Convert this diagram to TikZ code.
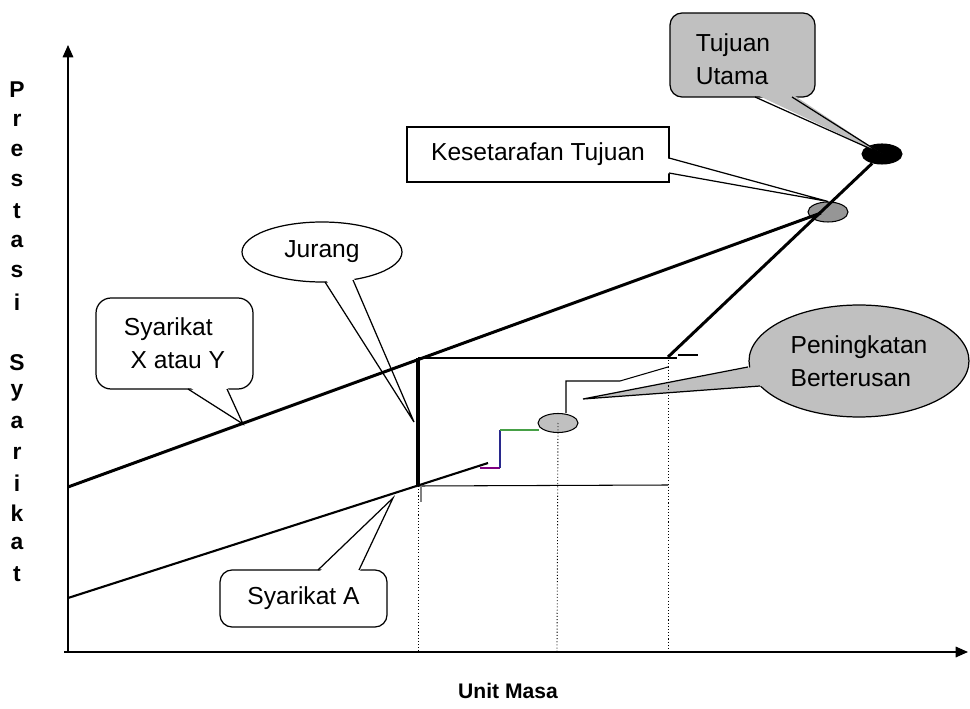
\documentclass[tikz,border=0pt]{standalone}
\usepackage{fontspec}
\setmainfont{Liberation Sans}
\usetikzlibrary{arrows.meta,shapes.geometric}
\definecolor{calloutgray}{RGB}{192,192,192}
\definecolor{markgray}{RGB}{150,150,150}
\definecolor{stepgreen}{RGB}{70,160,70}
\definecolor{stepblue}{RGB}{40,40,140}
\begin{document}
\begin{tikzpicture}[x=0.02cm,y=-0.02cm,
    every node/.style={font=\fontsize{14}{19}\selectfont},
    callout/.style={draw,line width=0.7pt,inner sep=0pt},
    tail/.style={line width=0.7pt},
    marker/.style={ellipse,draw,line width=0.6pt,minimum width=0.8cm,minimum height=0.4cm,inner sep=0pt},
    axislabel/.style={font=\bfseries\fontsize{13}{15}\selectfont},
    guide/.style={dash pattern=on 0.6pt off 1.2pt,line width=0.5pt},
    company/.style={line width=1.7pt}]
\useasboundingbox (0,0) rectangle (970,709);

% callouts
\node[callout,rounded corners=0.24cm,fill=calloutgray,minimum width=2.9cm,minimum height=1.68cm] (tujuan) at (742.5,55) {};
\node[align=left] (tujuanText) at (733,59) {Tujuan\\Utama};
\node[callout,fill=white,minimum width=5.24cm,minimum height=1.1cm] (setara) at (538,154.5) {Kesetarafan Tujuan};
\node[callout,ellipse,fill=white,minimum width=3.2cm,minimum height=1.2cm] (jurang) at (322,252) {Jurang};
\node[callout,rounded corners=0.3cm,fill=white,align=left,minimum width=3.14cm,minimum height=1.82cm] (sxy) at (174.5,343.5) {Syarikat\\\ X atau Y};
\node[callout,rounded corners=0.24cm,fill=white,minimum width=3.34cm,minimum height=1.14cm] (sa) at (303.5,598.5) {Syarikat A};
\node[callout,ellipse,fill=calloutgray,align=left,minimum width=4.4cm,minimum height=2.24cm] (tingkat) at (859,361) {Peningkatan\\Berterusan};

% markers
\node[marker,fill=black] (utama) at (882,154) {};
\node[marker,fill=markgray] (ks) at (828,212) {};
\node[marker,fill=calloutgray,minimum height=0.38cm] (pb) at (558,423) {};

% points on the lines
\coordinate (xy0) at (68,487);
\coordinate (xyEnd) at (821,213);
\coordinate (a0) at (68,598);
\coordinate (aEnd) at (488,463);
\coordinate (gapTop) at (418,358);
\coordinate (gapBot) at (418,486);
\coordinate (gapMid) at (414,422);
\coordinate (lowR) at (668,485);
\coordinate (highR) at (668,357);
\coordinate (sxyTip) at (243,424);
\coordinate (saTip) at (393,498);
\coordinate (pbTip) at (583,399);

% callout tails
\fill[calloutgray] (755,94) -- (utama.center) -- (792,94) -- cycle;
\draw[tail] (755,97) -- (utama.center) -- (792,97);
\fill[white] (666,158) -- (ks.north) -- (666,173) -- cycle;
\draw[tail] (669,158) -- (ks.north) -- (669,173);
\fill[white] (325,278) -- (gapMid) -- (353,276) -- cycle;
\draw[tail] (325,282) -- (gapMid) -- (353,280);
\fill[white] (188,386) -- (sxyTip) -- (227,386) -- cycle;
\draw[tail] (188,389) -- (sxyTip) -- (227,389);
\fill[white] (318,573) -- (saTip) -- (359,573) -- cycle;
\draw[tail] (318,570) -- (saTip) -- (359,570);
\fill[calloutgray] (752,367) -- (pbTip) -- (764,386) -- cycle;
\draw[tail] (748,367) -- (pbTip) -- (760,386);

% guides
\draw[guide] (gapBot) -- (418,652);
\draw[guide] (pb.center) -- (557,652);
\draw[guide] (highR) -- (668,652);
\draw[line width=0.6pt] (gapTop) -- (677,358);
\draw[line width=0.6pt] (gapBot) -- (lowR);
\draw[line width=0.6pt,gray] (421,485) -- (421,502);
\draw[line width=1.1pt] (678,355) -- (698,355);

% companies
\draw[company] (xy0) -- (xyEnd);
\draw[line width=1.2pt] (a0) -- (aEnd);
\draw[line width=2.8pt] (gapTop) -- (gapBot);
\draw[company] (highR) -- (utama);

% small steps
\draw[violet,line width=1.3pt] (480,468) -- (500,468);
\draw[stepblue,line width=0.7pt] (500,468) -- (500,430);
\draw[stepgreen,line width=0.8pt] (500,430) -- (539,430);
\draw[line width=0.6pt] (pb.north) ++(8,0) -- (566,381) -- (620,381) -- (668,367);

% axes
\draw[line width=0.9pt,-{Triangle[length=7pt,width=6pt]}] (68,652) -- (68,45);
\draw[line width=0.9pt,-{Triangle[length=7pt,width=6pt]}] (64,652) -- (968,652);
\foreach \ch [count=\i from 0] in {P,r,e,s,t,a,s,i}
  \node[axislabel] (yl\i) at (17,{90+\i*30.25}) {\ch};
\foreach \ch [count=\i from 9] in {S,y,a,r,i,k,a,t}
  \node[axislabel] (yl\i) at (17,{90+\i*30.25}) {\ch};
\node[axislabel,font=\bfseries\fontsize{12}{14}\selectfont] (masa) at (508,691) {Unit Masa};
\end{tikzpicture}
\end{document}
